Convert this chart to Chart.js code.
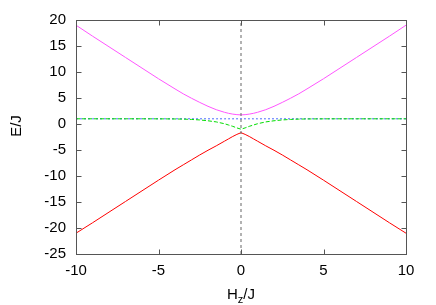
<!DOCTYPE html>
<html>
<head>
<meta charset="utf-8">
<script src="https://cdn.jsdelivr.net/npm/chart.js@4.4.0/dist/chart.umd.min.js"></script>
<style>
  html, body { margin: 0; padding: 0; background: #fff; }
  #wrap { width: 436px; height: 305px; }
</style>
</head>
<body>
<div id="wrap"><canvas id="energyChart" width="436" height="305"></canvas></div>
<script>
// field values H_z/J and the four energy levels E/J
const hzValues = [-10, -9, -8, -7, -6, -5, -4, -3.5, -3, -2.5, -2, -1.5, -1, -0.75, -0.5, -0.25,
  0, 0.25, 0.5, 0.75, 1, 1.5, 2, 2.5, 3, 3.5, 4, 5, 6, 7, 8, 9, 10];

const lowerLevel = [-21, -19, -16.95, -14.9, -12.85, -10.8, -8.8, -7.85, -6.9, -5.95, -5.05, -4.2, -3.3, -2.85, -2.4, -2.0,
  -1.67, -2.0, -2.4, -2.85, -3.3, -4.2, -5.05, -5.95, -6.9, -7.85, -8.8, -10.8, -12.85, -14.9, -16.95, -19, -21];

const upperLevel = [19, 16.9, 14.85, 12.8, 10.75, 8.7, 6.75, 5.8, 4.95, 4.15, 3.4, 2.75, 2.25, 2.05, 1.9, 1.8,
  1.75, 1.8, 1.9, 2.05, 2.25, 2.75, 3.4, 4.15, 4.95, 5.8, 6.75, 8.7, 10.75, 12.8, 14.85, 16.9, 19];

const dipLevel = [1, 1, 1, 1, 1, 0.99, 0.97, 0.94, 0.88, 0.78, 0.62, 0.4, 0.05, -0.2, -0.45, -0.75,
  -1.0, -0.75, -0.45, -0.2, 0.05, 0.4, 0.62, 0.78, 0.88, 0.94, 0.97, 0.99, 1, 1, 1, 1, 1];

const flatLevel = [1, 1, 1, 1, 1, 1, 1, 1, 1, 1, 1, 1, 1, 1, 1, 1,
  1, 1, 1, 1, 1, 1, 1, 1, 1, 1, 1, 1, 1, 1, 1, 1, 1];

const xRange = [-10, 10];
const yRange = [-25, 20];
const tickStep = 5;
const zeroLineX = [0, 0];

const FONT = "'Liberation Sans', Arial, sans-serif";

function toPoints(ys) {
  return ys.map((y, i) => ({ x: hzValues[i], y: y }));
}

function lineSet(ys, color, dash) {
  return {
    data: toPoints(ys),
    borderColor: color,
    borderWidth: 1,
    borderDash: dash || [],
    pointRadius: 0,
    tension: 0,
    fill: false,
  };
}

// gnuplot-like frame with inward ticks on all four sides
const framePlugin = {
  id: "frame",
  afterDatasetsDraw(chart) {
    const { ctx, chartArea: a, scales } = chart;
    const L = Math.round(a.left) + 0.5, R = Math.round(a.right) + 0.5;
    const T = Math.round(a.top) + 0.5, B = Math.round(a.bottom) + 0.5;
    ctx.save();
    ctx.strokeStyle = "#555";
    ctx.lineWidth = 1;
    ctx.strokeRect(L, T, R - L, B - T);
    ctx.beginPath();
    for (let v = xRange[0]; v <= xRange[1]; v += tickStep) {
      const px = Math.round(scales.x.getPixelForValue(v)) + 0.5;
      ctx.moveTo(px, B); ctx.lineTo(px, B - 5);
      ctx.moveTo(px, T); ctx.lineTo(px, T + 5);
    }
    for (let v = yRange[0]; v <= yRange[1]; v += tickStep) {
      const py = Math.round(scales.y.getPixelForValue(v)) + 0.5;
      ctx.moveTo(L, py); ctx.lineTo(L + 5, py);
      ctx.moveTo(R, py); ctx.lineTo(R - 5, py);
    }
    ctx.stroke();
    ctx.restore();
  },
  afterDraw(chart) {
    const { ctx } = chart;
    ctx.save();
    ctx.fillStyle = "#000";
    ctx.textBaseline = "alphabetic";
    // y title
    ctx.font = "15px " + FONT;
    ctx.translate(21, 126);
    ctx.rotate(-Math.PI / 2);
    ctx.textAlign = "center";
    ctx.fillText("E/J", 0, 0);
    ctx.restore();

    // x title with subscript
    ctx.save();
    ctx.fillStyle = "#000";
    ctx.textAlign = "left";
    ctx.textBaseline = "alphabetic";
    ctx.font = "15px " + FONT;
    const wH = ctx.measureText("H").width;
    const wJ = ctx.measureText("/J").width;
    ctx.font = "11px " + FONT;
    const wz = ctx.measureText("z").width;
    let x0 = 241 - (wH + wz + wJ) / 2;
    ctx.font = "15px " + FONT;
    ctx.fillText("H", x0, 299);
    ctx.font = "11px " + FONT;
    ctx.fillText("z", x0 + wH, 303);
    ctx.font = "15px " + FONT;
    ctx.fillText("/J", x0 + wH + wz, 299);
    ctx.restore();
  },
};

const zeroLine = {
  data: [{ x: zeroLineX[0], y: yRange[0] }, { x: zeroLineX[1], y: yRange[1] }],
  borderColor: "#666",
  borderWidth: 1,
  borderDash: [3, 3],
  pointRadius: 0,
  fill: false,
};

new Chart(document.getElementById("energyChart"), {
  type: "line",
  data: {
    datasets: [
      zeroLine,
      lineSet(lowerLevel, "#ff0000"),
      lineSet(upperLevel, "#ff55ff"),
      lineSet(dipLevel, "#00dd00", [4, 2]),
      lineSet(flatLevel, "#4a6cff", [2, 2]),
    ],
  },
  options: {
    responsive: false,
    animation: false,
    layout: { padding: { left: 0, top: 20, right: 30, bottom: 0 } },
    plugins: { legend: { display: false }, tooltip: { enabled: false } },
    scales: {
      x: {
        type: "linear",
        min: xRange[0],
        max: xRange[1],
        grid: { display: false, drawTicks: false },
        border: { display: false },
        ticks: { stepSize: tickStep, padding: 8, color: "#000", font: { family: FONT, size: 15 } },
        afterFit: (s) => { s.height = 51; },
      },
      y: {
        min: yRange[0],
        max: yRange[1],
        grid: { display: false, drawTicks: false },
        border: { display: false },
        ticks: { stepSize: tickStep, padding: 10, color: "#000", font: { family: FONT, size: 15 } },
        afterFit: (s) => { s.width = 76; },
      },
    },
  },
  plugins: [framePlugin],
});
</script>
</body>
</html>
